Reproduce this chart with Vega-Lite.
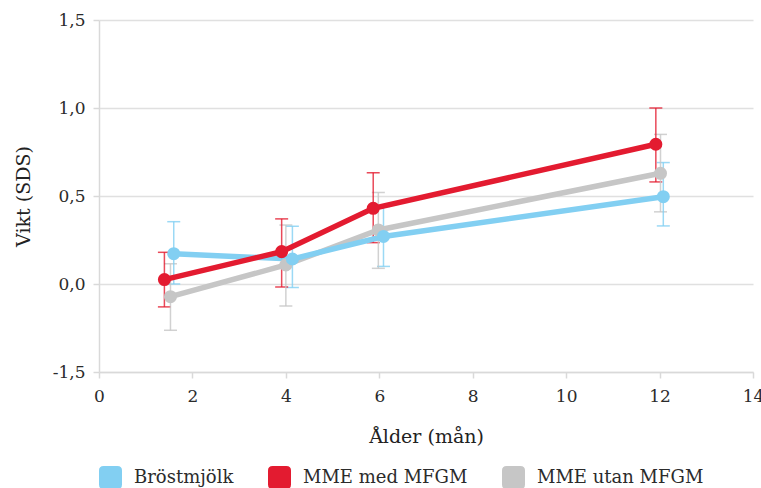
{
  "$schema": "https://vega.github.io/schema/vega-lite/v6.json",
  "width": 654,
  "height": 352,
  "autosize": "none",
  "padding": {"left": 99, "top": 20, "right": 8, "bottom": 116},
  "background": "white",
  "config": {
    "font": "DejaVu Serif",
    "view": {"stroke": null},
    "axis": {
      "labelFont": "DejaVu Serif",
      "titleFont": "DejaVu Serif",
      "labelFontSize": 17,
      "titleFontSize": 19,
      "labelColor": "#2b2b2b",
      "titleColor": "#222222",
      "titleFontWeight": "normal",
      "domainColor": "#d9d9d9",
      "domainWidth": 1.5,
      "tickColor": "#d9d9d9",
      "tickWidth": 1.5,
      "tickSize": 6,
      "gridColor": "#e0e0e0",
      "gridWidth": 1.5
    },
    "legend": {
      "labelFont": "DejaVu Serif",
      "labelFontSize": 18,
      "labelColor": "#2b2b2b",
      "labelLimit": 400
    }
  },
  "data": {
    "values": [
      {"serie": "MME utan MFGM", "alder": 1.53, "vikt": -0.072, "lo": -0.263, "hi": 0.115},
      {"serie": "MME utan MFGM", "alder": 4.0, "vikt": 0.108, "lo": -0.125, "hi": 0.335},
      {"serie": "MME utan MFGM", "alder": 5.98, "vikt": 0.307, "lo": 0.089, "hi": 0.52},
      {"serie": "MME utan MFGM", "alder": 12.02, "vikt": 0.629, "lo": 0.41, "hi": 0.85},
      {"serie": "Bröstmjölk", "alder": 1.6, "vikt": 0.172, "lo": 0.0, "hi": 0.354},
      {"serie": "Bröstmjölk", "alder": 4.14, "vikt": 0.142, "lo": -0.02, "hi": 0.328},
      {"serie": "Bröstmjölk", "alder": 6.09, "vikt": 0.27, "lo": 0.1, "hi": 0.44},
      {"serie": "Bröstmjölk", "alder": 12.08, "vikt": 0.496, "lo": 0.33, "hi": 0.69},
      {"serie": "MME med MFGM", "alder": 1.4, "vikt": 0.025, "lo": -0.13, "hi": 0.18},
      {"serie": "MME med MFGM", "alder": 3.91, "vikt": 0.184, "lo": -0.017, "hi": 0.37},
      {"serie": "MME med MFGM", "alder": 5.87, "vikt": 0.43, "lo": 0.235, "hi": 0.632},
      {"serie": "MME med MFGM", "alder": 11.92, "vikt": 0.794, "lo": 0.58, "hi": 1.0}
    ]
  },
  "encoding": {
    "x": {
      "field": "alder",
      "type": "quantitative",
      "title": "Ålder (mån)",
      "scale": {"domain": [0, 14], "nice": false},
      "axis": {"values": [0, 2, 4, 6, 8, 10, 12, 14], "grid": false, "labelFlush": false, "labelPadding": 10, "titlePadding": 23}
    },
    "color": {
      "field": "serie",
      "type": "nominal",
      "scale": {
        "domain": ["Bröstmjölk", "MME med MFGM", "MME utan MFGM"],
        "range": ["#82cff2", "#e31b30", "#c6c6c6"]
      },
      "legend": {
        "title": null,
        "orient": "none",
        "direction": "horizontal",
        "legendX": 0,
        "legendY": 446,
        "symbolType": "M-1,-0.6Q-1,-1,-0.6,-1L0.6,-1Q1,-1,1,-0.6L1,0.6Q1,1,0.6,1L-0.6,1Q-1,1,-1,0.6Z",
        "symbolSize": 529,
        "symbolStrokeWidth": 0,
        "symbolOpacity": 1,
        "labelOffset": 12,
        "columnPadding": 34
      }
    }
  },
  "layer": [
    {
      "mark": {"type": "errorbar", "ticks": true, "size": 13, "thickness": 1.5, "opacity": 0.8},
      "encoding": {
        "y": {
          "field": "lo",
          "type": "quantitative",
          "title": "Vikt (SDS)",
          "scale": {"domain": [-0.5, 1.5], "nice": false},
          "axis": {
            "values": [-0.5, 0, 0.5, 1, 1.5],
            "labelExpr": "datum.value == -0.5 ? '-1,5' : replace(format(datum.value, '.1f'), '.', ',')",
            "labelPadding": 8,
            "titlePadding": 19
          }
        },
        "y2": {"field": "hi"}
      }
    },
    {
      "mark": {"type": "line", "strokeWidth": 5.5},
      "encoding": {
        "y": {"field": "vikt", "type": "quantitative"}
      }
    },
    {
      "mark": {"type": "circle", "size": 170, "opacity": 1},
      "encoding": {
        "y": {"field": "vikt", "type": "quantitative"}
      }
    }
  ]
}
